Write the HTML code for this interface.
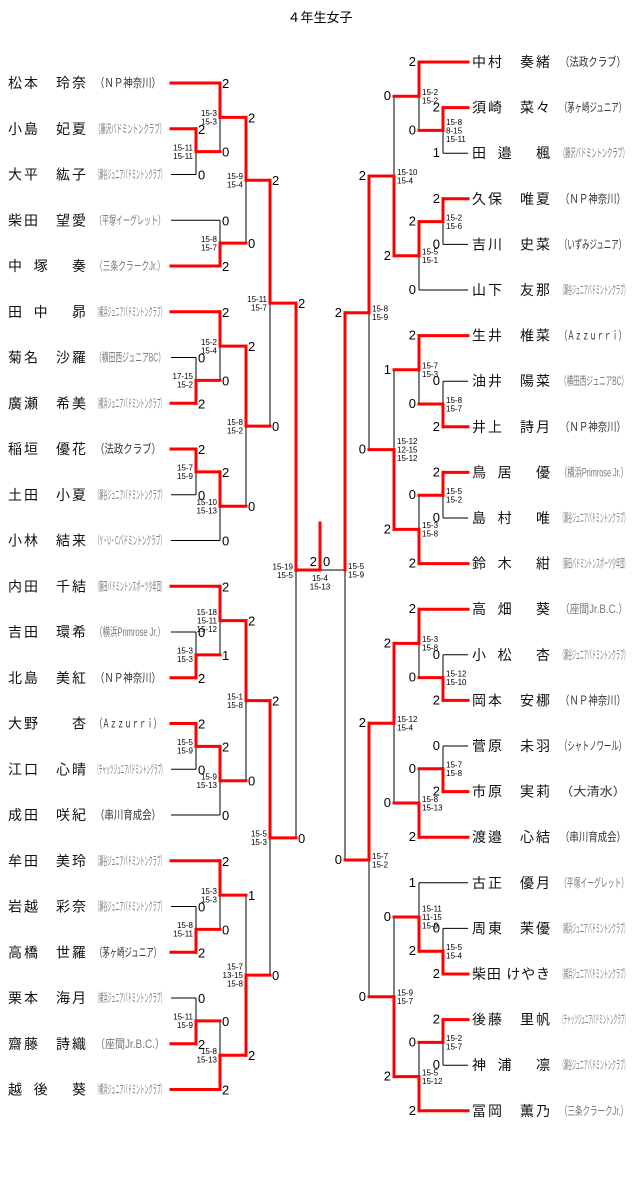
<!DOCTYPE html>
<html><head><meta charset="utf-8">
<style>
html,body{margin:0;padding:0;background:#fff;}
svg{display:block;font-family:"Liberation Sans","Noto Sans CJK JP",sans-serif;}
.nm{font-size:14px;fill:#111;}
.cl{font-size:12px;fill:#333;}
.sc{font-size:13px;fill:#000;}
.lb{font-size:8px;fill:#000;}
</style></head>
<body>
<svg id="s" width="640" height="1193" xmlns="http://www.w3.org/2000/svg">
<text x="320" y="22" text-anchor="middle" style="font-size:13px">４年生女子</text>
</svg>
<script>
const NS="http://www.w3.org/2000/svg";
const svg=document.getElementById('s');
const blk=[],red=[],txt=[];
function ln(x1,y1,x2,y2,r){(r?red:blk).push([x1,y1,x2,y2]);}
function tx(x,y,s,cls,anchor,extra){txt.push({x,y,s,cls,anchor,extra});}
const LN=[["松本　玲奈","（ＮＰ神奈川）"],["小島　妃夏","（藤沢バドミントンクラブ）"],["大平　紘子","（瀬谷ジュニアバドミントンクラブ）"],["柴田　望愛","（平塚イーグレット）"],["中　塚　　奏","（三条クラークJr.）"],["田　中　　昴","（横浜ジュニアバドミントンクラブ）"],["菊名　沙羅","（横田西ジュニアBC）"],["廣瀬　希美","（横浜ジュニアバドミントンクラブ）"],["稲垣　優花","（法政クラブ）"],["土田　小夏","（瀬谷ジュニアバドミントンクラブ）"],["小林　結来","（Y・U・Cバドミントンクラブ）"],["内田　千結","（藤田バドミントンスポーツ少年団）"],["吉田　環希","（横浜Primrose Jr.）"],["北島　美紅","（ＮＰ神奈川）"],["大野　　杏","（Ａｚｚｕｒｒｉ）"],["江口　心晴","（チャッツジュニアバドミントンクラブ）"],["成田　咲紀","（串川育成会）"],["牟田　美玲","（瀬谷ジュニアバドミントンクラブ）"],["岩越　彩奈","（瀬谷ジュニアバドミントンクラブ）"],["高橋　世羅","（茅ヶ崎ジュニア）"],["栗本　海月","（横浜ジュニアバドミントンクラブ）"],["齋藤　詩織","（座間Jr.B.C.）"],["越　後　　葵","（横浜ジュニアバドミントンクラブ）"]];
const RN=[["中村　奏緒","（法政クラブ）"],["須崎　菜々","（茅ヶ崎ジュニア）"],["田　邉　　楓","（藤沢バドミントンクラブ）"],["久保　唯夏","（ＮＰ神奈川）"],["吉川　史菜","（いずみジュニア）"],["山下　友那","（瀬谷ジュニアバドミントンクラブ）"],["生井　椎菜","（Ａｚｚｕｒｒｉ）"],["油井　陽菜","（横田西ジュニアBC）"],["井上　詩月","（ＮＰ神奈川）"],["鳥　居　　優","（横浜Primrose Jr.）"],["島　村　　唯","（瀬谷ジュニアバドミントンクラブ）"],["鈴　木　　紺","（藤田バドミントンスポーツ少年団）"],["高　畑　　葵","（座間Jr.B.C.）"],["小　松　　杏","（瀬谷ジュニアバドミントンクラブ）"],["岡本　安梛","（ＮＰ神奈川）"],["菅原　未羽","（シャトノワール）"],["市原　実莉","（大清水）"],["渡邉　心結","（串川育成会）"],["古正　優月","（平塚イーグレット）"],["周東　茉優","（横浜ジュニアバドミントンクラブ）"],["柴田 けやき","（横浜ジュニアバドミントンクラブ）"],["後藤　里帆","（チャッツジュニアバドミントンクラブ）"],["神　浦　　凛","（瀬谷ジュニアバドミントンクラブ）"],["冨岡　薫乃","（三条クラークJr.）"]];
const ly=i=>83+i*45.75, ry=i=>62+i*45.6;
function P(side,i){return {leaf:true,y:side=='L'?ly(i):ry(i)};}
function M(x,a,b,w,sa,sb,lab){return {x,a,b,w,sa,sb,lab,y:(a.y+b.y)/2};}
function draw(m,side){
  [m.a,m.b].forEach((c,idx)=>{
    const sx=c.leaf?(side=='L'?171:468):c.x;
    ln(sx,c.y,m.x,c.y,c.leaf?(m.w==idx):true);
    const s=idx==0?m.sa:m.sb;
    if(side=='L')tx(m.x+2,c.y+5,s,'sc','start');else tx(m.x-3,c.y+4,s,'sc','end');
    if(!c.leaf)draw(c,side);
  });
  ln(m.x,m.a.y,m.x,m.b.y,false);
  const wy=m.w==0?m.a.y:m.b.y;
  ln(m.x,wy,m.x,m.y,true);
  const ls=m.lab.split('\n');const n=ls.length;
  ls.forEach((l,k)=>{const y=m.y+3+(k-(n-1)/2)*8.5;
    if(side=='L')tx(m.x-3,y,l,'lb','end');else tx(m.x+3,y,l,'lb','start');});
}
const L=i=>P('L',i),R=i=>P('R',i);
const m2=M(220,L(0),M(196,L(1),L(2),0,2,0,"15-11\n15-11"),0,2,0,"15-3\n15-3");
const m3=M(220,L(3),L(4),1,0,2,"15-8\n15-7");
const m4=M(246,m2,m3,0,2,0,"15-9\n15-4");
const m6=M(220,L(5),M(196,L(6),L(7),1,0,2,"17-15\n15-2"),0,2,0,"15-2\n15-4");
const m8=M(220,M(196,L(8),L(9),0,2,0,"15-7\n15-9"),L(10),0,2,0,"15-10\n15-13");
const m9=M(246,m6,m8,0,2,0,"15-8\n15-2");
const m10=M(270,m4,m9,0,2,0,"15-11\n15-7");
const m12=M(220,L(11),M(196,L(12),L(13),1,0,2,"15-3\n15-3"),0,2,1,"15-18\n15-11\n15-12");
const m14=M(220,M(196,L(14),L(15),0,2,0,"15-5\n15-9"),L(16),0,2,0,"15-9\n15-13");
const m15=M(246,m12,m14,0,2,0,"15-1\n15-8");
const m17=M(220,L(17),M(196,L(18),L(19),1,0,2,"15-8\n15-11"),0,2,0,"15-3\n15-3");
const m19=M(220,M(196,L(20),L(21),1,0,2,"15-11\n15-9"),L(22),1,0,2,"15-8\n15-13");
const m20=M(246,m17,m19,1,1,2,"15-7\n13-15\n15-8");
const m21=M(270,m15,m20,0,2,0,"15-5\n15-3");
const m22=M(296,m10,m21,0,2,0,"15-19\n15-5");
const r2=M(419,R(0),M(443,R(1),R(2),0,2,1,"15-8\n8-15\n15-11"),0,2,0,"15-2\n15-2");
const r4=M(419,M(443,R(3),R(4),0,2,0,"15-2\n15-6"),R(5),0,2,0,"15-5\n15-1");
const r5=M(394,r2,r4,1,0,2,"15-10\n15-4");
const r7=M(419,R(6),M(443,R(7),R(8),1,0,2,"15-8\n15-7"),0,2,0,"15-7\n15-3");
const r9=M(419,M(443,R(9),R(10),0,2,0,"15-5\n15-2"),R(11),1,0,2,"15-3\n15-8");
const r10=M(394,r7,r9,1,1,2,"15-12\n12-15\n15-12");
const r11=M(369,r5,r10,0,2,0,"15-8\n15-9");
const r13=M(419,R(12),M(443,R(13),R(14),1,0,2,"15-12\n15-10"),0,2,0,"15-3\n15-8");
const r15=M(419,M(443,R(15),R(16),1,0,2,"15-7\n15-8"),R(17),1,0,2,"15-8\n15-13");
const r16=M(394,r13,r15,0,2,0,"15-12\n15-4");
const r18=M(419,R(18),M(443,R(19),R(20),1,0,2,"15-5\n15-4"),1,1,2,"15-11\n11-15\n15-9");
const r20=M(419,M(443,R(21),R(22),0,2,0,"15-2\n15-7"),R(23),1,0,2,"15-5\n15-12");
const r21=M(394,r18,r20,1,0,2,"15-9\n15-7");
const r22=M(369,r16,r21,0,2,0,"15-7\n15-2");
const r23=M(345,r11,r22,0,2,0,"15-5\n15-9");
draw(m22,'L');
r23.y=570;
draw(r23,'R');
ln(296,570,320,570,true);
ln(320,570,345,570,false);
ln(320,523,320,570,true);
tx(317,566,"2",'sc','end');tx(323,566,"0",'sc','start');
tx(320,581,"15-4",'lb','middle');tx(320,589.5,"15-13",'lb','middle');
LN.forEach((n,i)=>{const y=ly(i)+5;
  txt.push({x:8,y,s:n[0],cls:'nm',anchor:'start',tl:78,adj:'spacing'});
  const long=n[1].length>9;
  txt.push({x:95,y:y-1,s:n[1],cls:'cl',anchor:'start',tl:long?70:66,adj:'spacingAndGlyphs',gray:long});
});
RN.forEach((n,i)=>{const y=ry(i)+5;
  txt.push({x:472,y,s:n[0],cls:'nm',anchor:'start',tl:78,adj:'spacing'});
  const long=n[1].length>9;
  txt.push({x:560,y:y-1,s:n[1],cls:'cl',anchor:'start',tl:long?68:66,adj:'spacingAndGlyphs',gray:long});
});
function addLine(a,r){const e=document.createElementNS(NS,'line');
  e.setAttribute('x1',a[0]);e.setAttribute('y1',a[1]);e.setAttribute('x2',a[2]);e.setAttribute('y2',a[3]);
  e.setAttribute('stroke',r?'#ff0000':'#000');e.setAttribute('stroke-width',r?3:1);
  if(r)e.setAttribute('stroke-linecap','square');
  svg.appendChild(e);}
blk.forEach(a=>addLine(a,false));red.forEach(a=>addLine(a,true));
txt.forEach(t=>{const e=document.createElementNS(NS,'text');
  e.setAttribute('x',t.x);e.setAttribute('y',t.y);e.setAttribute('class',t.cls);
  e.setAttribute('text-anchor',t.anchor);
  if(t.tl){e.setAttribute('textLength',t.tl);e.setAttribute('lengthAdjust',t.adj);}
  if(t.gray)e.setAttribute('style','fill:#777');
  e.textContent=t.s;svg.appendChild(e);});
</script>
</body></html>
